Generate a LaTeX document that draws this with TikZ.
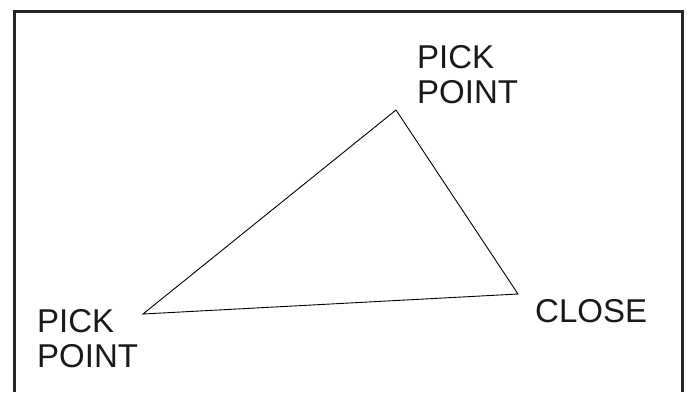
\documentclass[tikz,border=0pt]{standalone}
\usepackage{fontspec}
\setmainfont{Liberation Sans}
\begin{document}
\begin{tikzpicture}[x=1pt,y=-1pt,
  frame/.style={line width=3pt,black!85},
  edge/.style={line width=0.9pt,black},
  lbl/.style={inner sep=0pt,anchor=base west,align=left,font=\fontsize{33}{35}\selectfont,text=black!90}]
\useasboundingbox (0,0) rectangle (687,392);
\draw[frame] (14,392) -- (14,11.5) -- (682,11.5) -- (682,392);
\coordinate (top) at (396,110);
\coordinate (left) at (143,314);
\coordinate (right) at (518,294);
\draw[edge] (left) -- (top) -- (right) -- cycle;
\node[lbl] (ptop) at (417,103) {PICK\\POINT};
\node[lbl] (pleft) at (37,367) {PICK\\POINT};
\node[lbl] (close) at (535,322) {CLOSE};
\end{tikzpicture}
\end{document}
